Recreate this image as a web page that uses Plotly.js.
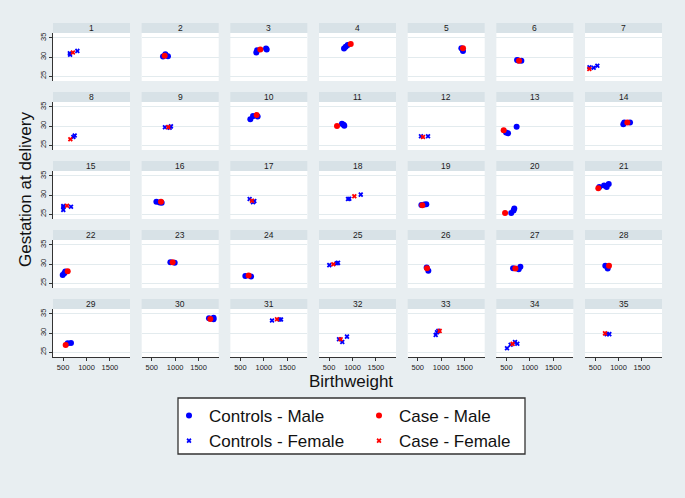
<!DOCTYPE html>
<html><head><meta charset="utf-8">
<script src="https://cdn.plot.ly/plotly-3.0.1.min.js"></script>
<style>html,body{margin:0;padding:0;background:#e8eef1;} #chart{width:685px;height:498px;}</style>
</head><body><div id="chart"></div>
<script>
// ---- data ----
const panelNo = [
  1,1,1,1, 2,2,2,2, 3,3,3,3,3, 4,4,4,4, 5,5,5, 6,6,6,6, 7,7,7,7,
  8,8,8, 9,9,9,9, 10,10,10,10, 11,11,11,11, 12,12,12, 13,13,13,13, 14,14,14,14,
  15,15,15,15,15, 16,16,16,16, 17,17,17,17, 18,18,18,18, 19,19,19,19, 20,20,20,20, 21,21,21,21,21,
  22,22,22,22, 23,23,23, 24,24,24, 25,25,25,25, 26,26,26, 27,27,27,27, 28,28,28,
  29,29,29, 30,30,30,30, 31,31,31,31, 32,32,32,32, 33,33,33,33, 34,34,34,34,34, 35,35,35
];
const birthweight = [
  645,650,805,710, 740,791,846,776, 840,856,1047,1061,925, 819,855,898,962, 1431,1466,1466, 727,750,819,770, 380,470,548,377,
  719,748,655, 782,883,910,854, 712,769,868,846, 775,811,825,669, 569,719,612, 492,534,718,441, 1103,1124,1246,1188,
  505,505,505,669,584, 599,669,712,697, 697,769,797,747, 904,932,1176,1039, 577,640,683,598, 603,653,668,471, 590,691,748,791,569,
  492,526,548,599, 898,990,947, 605,727,676, 505,663,691,591, 690,726,697, 642,762,798,691, 718,769,797,
  599,669,556, 1722,1820,1820,1750, 1175,1337,1367,1281, 712,782,882,747, 883,911,940,968, 513,590,683,733,632, 747,804,712
];
const gestation = [
  30.95,30.6,31.6,31.2, 30.1,30.7,30.2,30.3, 31.2,31.8,32.2,32.0,32.0, 32.2,32.7,33.15,33.4, 32.3,31.6,32.3, 29.2,29.1,29.0,29.0, 27.3,27.2,27.7,26.85,
  27.1,27.5,26.5, 29.66,29.55,29.9,29.7, 31.75,32.6,32.5,32.9, 30.6,30.3,30.05,30.0, 27.3,27.3,27.1, 28.3,28.1,29.8,28.9, 30.45,30.9,30.9,30.9,
  27.1,26.8,26.1,26.9,27.2, 28.2,28.0,27.95,28.2, 28.95,28.1,28.4,28.5, 28.95,29.0,30.1,29.65, 27.4,27.5,27.6,27.3, 25.3,25.9,26.45,25.3, 32.1,32.5,32.1,32.9,31.8,
  27.1,27.6,28.0,28.1, 30.45,30.35,30.45, 26.85,26.7,27.0, 29.7,30.2,30.3,29.95, 29.1,28.2,28.9, 28.9,28.6,29.3,28.8, 29.55,28.85,29.55,
  27.3,27.4,26.85, 33.85,34.0,33.6,33.65, 33.3,33.55,33.55,33.6, 28.35,27.65,29.05,28.35, 29.5,30.2,30.55,30.55, 26.0,26.9,27.6,27.2,27.15, 29.7,29.7,29.9
];
const status = [
  'C','C','C','K', 'C','C','C','K', 'C','C','C','C','K', 'C','C','C','K', 'C','C','K', 'C','C','C','K', 'C','C','C','K',
  'C','C','K', 'C','C','C','K', 'C','C','C','K', 'C','C','C','K', 'C','C','K', 'C','C','C','K', 'C','C','C','K',
  'C','C','C','C','K', 'C','C','C','K', 'C','C','C','K', 'C','C','C','K', 'C','C','C','K', 'C','C','C','K', 'C','C','C','C','K',
  'C','C','C','K', 'C','C','K', 'C','C','K', 'C','C','C','K', 'C','C','K', 'C','C','C','K', 'C','C','K',
  'C','C','K', 'C','C','C','K', 'C','C','C','K', 'C','C','C','K', 'C','C','C','K', 'C','C','C','C','K', 'C','C','K'
];
const panelSex = ['F','M','M','M','M','M','F','F','F','M','M','F','M','M','F','M','F','F','M','M','M','M','M','M','F','M','M','M','M','M','F','F','F','F','F'];
const groupNames = ['Controls - Male','Controls - Female','Case - Male','Case - Female'];
const groupStatus = ['C','C','K','K'];
const groupSex = ['M','F','M','F'];
const groupColors = ['#0000ff','#0000ff','#ff0000','#ff0000'];
const groupSymbols = ['circle','x','circle','x'];
const xTickVals = [500,1000,1500];
const yTickVals = [25,30,35];

// ---- layout geometry (pixels) ----
const W = 685, H = 498;
const nCols = 7, nRows = 5;
const colX0 = 53, colStep = 88.67, plotW = 77;
const rowHeaderTop = 23, rowStep = 69, headerH = 10, plotH = 48;
const bgColor = '#e8eef1', stripColor = '#d8e2e7';

const traces = [];
const layout = {
  width: W, height: H,
  margin: {l:0, r:0, t:0, b:0},
  paper_bgcolor: bgColor, plot_bgcolor: '#ffffff',
  font: {family: 'Liberation Sans, Arial, sans-serif', color: '#222'},
  shapes: [], annotations: [],
  showlegend: true,
  legend: {x: 169/W, y: 1-398/H, xanchor:'left', yanchor:'top', bgcolor:'rgba(0,0,0,0)', borderwidth:0,
           font:{size:17, color:'#111', family:'Liberation Sans, Arial, sans-serif'}, tracegroupgap:0},
  legend2: {x: 359/W, y: 1-398/H, xanchor:'left', yanchor:'top', bgcolor:'rgba(0,0,0,0)', borderwidth:0,
           font:{size:17, color:'#111', family:'Liberation Sans, Arial, sans-serif'}, tracegroupgap:0}
};

const legendShown = [false,false,false,false];
for (let p = 1; p <= 35; p++) {
  const r = Math.floor((p-1)/nCols), c = (p-1)%nCols;
  const x0 = colX0 + c*colStep, x1 = x0 + plotW;
  const yTop = rowHeaderTop + r*rowStep + headerH, yBot = yTop + plotH;
  const xa = 'xaxis' + (p===1?'':p), ya = 'yaxis' + (p===1?'':p);
  const xr = 'x' + (p===1?'':p), yr = 'y' + (p===1?'':p);
  const isBottom = r === nRows-1, isLeft = c === 0;
  layout[xa] = {
    domain: [x0/W, x1/W], range: [285, 1929], anchor: yr,
    tickvals: xTickVals, showticklabels: isBottom, ticks: isBottom ? 'outside' : '',
    ticklen: 3, tickwidth: 1, tickcolor: '#333', showline: isBottom, linecolor: '#333', linewidth: 1,
    showgrid: false, zeroline: false, fixedrange: true,
    tickfont: {size: 7.5, color: '#222'}
  };
  layout[ya] = {
    domain: [1-yBot/H, 1-yTop/H], range: [23.7, 36.3], anchor: xr,
    tickvals: yTickVals, showticklabels: isLeft, ticks: isLeft ? 'outside' : '',
    ticklen: 3, tickwidth: 1, tickcolor: '#333', showline: isLeft, linecolor: '#333', linewidth: 1,
    showgrid: true, gridcolor: '#e3ebee', gridwidth: 1, zeroline: false, fixedrange: true,
    tickangle: -90, tickfont: {size: 7.5, color: '#222'}
  };
  // header strip
  layout.shapes.push({type:'rect', xref:'paper', yref:'paper', layer:'below',
    x0: x0/W, x1: x1/W, y0: 1-(yTop)/H, y1: 1-(yTop-headerH)/H, fillcolor: stripColor, line:{width:0}});
  layout.annotations.push({xref:'paper', yref:'paper', x:(x0+x1)/2/W, y:1-(yTop-headerH/2)/H,
    text: String(p), showarrow:false, xanchor:'center', yanchor:'middle', font:{size:8.5, color:'#1a1a1a'}});

  for (let g = 0; g < 4; g++) {
    const xs = [], ys = [];
    for (let i = 0; i < panelNo.length; i++) {
      if (panelNo[i] === p && status[i] === groupStatus[g] && panelSex[p-1] === groupSex[g]) {
        xs.push(birthweight[i]); ys.push(gestation[i]);
      }
    }
    if (!xs.length) continue;
    const show = !legendShown[g]; legendShown[g] = true;
    const isCircle = groupSymbols[g] === 'circle';
    traces.push({
      type:'scatter', mode:'markers', x: xs, y: ys, xaxis: xr, yaxis: yr,
      name: groupNames[g], showlegend: show, legendgroup: groupNames[g],
      legend: groupStatus[g] === 'C' ? 'legend' : 'legend2', legendrank: g,
      marker: {color: groupColors[g], symbol: groupSymbols[g], size: isCircle ? 6 : 4.5, line:{width:0}},
      hoverinfo: 'skip'
    });
  }
}
// controls drawn before cases
traces.sort((a,b) => (a.legend === 'legend' ? 0 : 1) - (b.legend === 'legend' ? 0 : 1));

// legend frame
layout.shapes.push({type:'rect', xref:'paper', yref:'paper', layer:'below',
  x0: 178/W, x1: 525/W, y0: 1-454/H, y1: 1-398/H, fillcolor:'#ffffff', line:{color:'#333', width:1.3}});
// axis titles
layout.annotations.push({xref:'paper', yref:'paper', x: 351/W, y: 1-381/H, text:'Birthweight', showarrow:false,
  xanchor:'center', yanchor:'middle', font:{size:17, color:'#111'}});
layout.annotations.push({xref:'paper', yref:'paper', x: 25/W, y: 1-190/H, text:'Gestation at delivery', showarrow:false,
  textangle: -90, xanchor:'center', yanchor:'middle', font:{size:17, color:'#111'}});

Plotly.newPlot('chart', traces, layout, {displayModeBar:false, staticPlot:true});
</script></body></html>
